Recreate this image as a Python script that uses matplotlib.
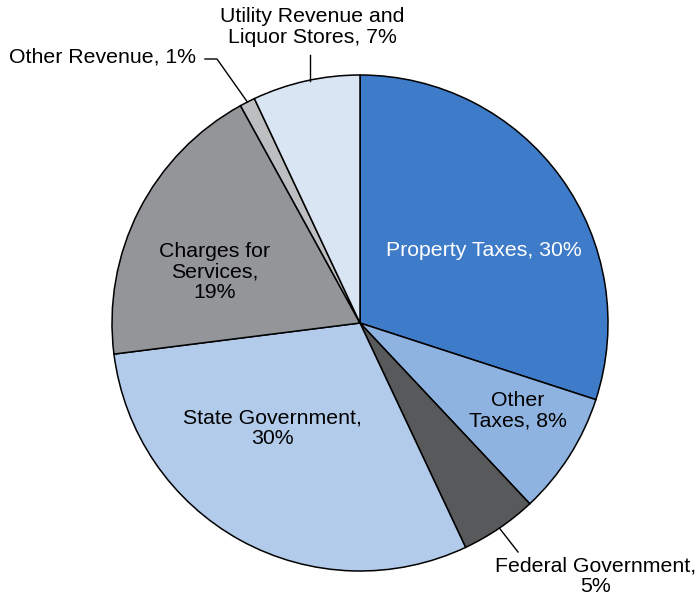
import numpy as np
import matplotlib
matplotlib.use("Agg")
import matplotlib.pyplot as plt

plt.rcParams['font.family'] = ['Liberation Sans', 'DejaVu Sans']

categories = ["Property Taxes", "Other Taxes", "Federal Government", "State Government",
              "Charges for Services", "Other Revenue", "Utility Revenue and Liquor Stores"]
values = [30, 8, 5, 30, 19, 1, 7]
labels = ["Property Taxes, 30%", "Other\nTaxes, 8%", "Federal Government,\n5%",
          "State Government,\n30%", "Charges for\nServices,\n19%", "Other Revenue, 1%",
          "Utility Revenue and\nLiquor Stores, 7%"]
colors = ["#3E7BC9", "#8FB3E0", "#58595B", "#B2CBEA", "#939598", "#BCBEC0", "#DAE5F4"]

W, H = 696, 597
cx, cy, R = 360, 323, 248

def d(px, py):
    return ((px - cx) / R, (cy - py) / R)

fig = plt.figure(figsize=(W / 100, H / 100), dpi=100)
ax = fig.add_axes([0, 0, 1, 1])
wedges, _ = ax.pie(values, startangle=90, counterclock=False, colors=colors,
                   wedgeprops=dict(edgecolor="black", linewidth=1.1))
ax.set_aspect('equal')
ax.set_xlim((0 - cx) / R, (W - cx) / R)
ax.set_ylim((cy - H) / R, cy / R)
ax.axis('off')

fs = 15.3
ls = 1.07

def edge(i):
    w = wedges[i]
    a = np.deg2rad((w.theta1 + w.theta2) / 2)
    return np.cos(a), np.sin(a)

# inside labels
ax.text(*d(484, 250), labels[0], color="white", fontsize=fs, ha="center", va="center")
ax.text(*d(518, 411), labels[1], color="black", fontsize=fs, ha="center", va="center",
        multialignment="center", linespacing=ls)
ax.text(*d(272, 428), labels[3], color="black", fontsize=fs, ha="center", va="center",
        multialignment="center", linespacing=ls)
ax.text(*d(215, 272), labels[4], color="black", fontsize=fs, ha="center", va="center",
        multialignment="center", linespacing=ls)

# outside labels with leader lines
# Federal Government
ex, ey = edge(2)
ax.plot([ex, d(518, 552)[0]], [ey, d(518, 552)[1]], color="black", lw=1.0)
ax.text(*d(596, 576), labels[2], fontsize=fs, ha="center", va="center",
        multialignment="center", linespacing=ls)

# Other Revenue
ex, ey = edge(5)
k = d(217, 59)
s = d(205, 59)
ax.plot([s[0], k[0], ex], [s[1], k[1], ey], color="black", lw=1.0)
ax.text(*d(196, 57), labels[5], fontsize=fs, ha="right", va="center")

# Utility Revenue
ex, ey = edge(6)
top = d(310, 55)
ax.plot([top[0], top[0]], [top[1], ey], color="black", lw=1.0)
ax.text(*d(312, 27), labels[6], fontsize=fs, ha="center", va="center",
        multialignment="center", linespacing=ls)

fig.savefig("out.png", dpi=100)
